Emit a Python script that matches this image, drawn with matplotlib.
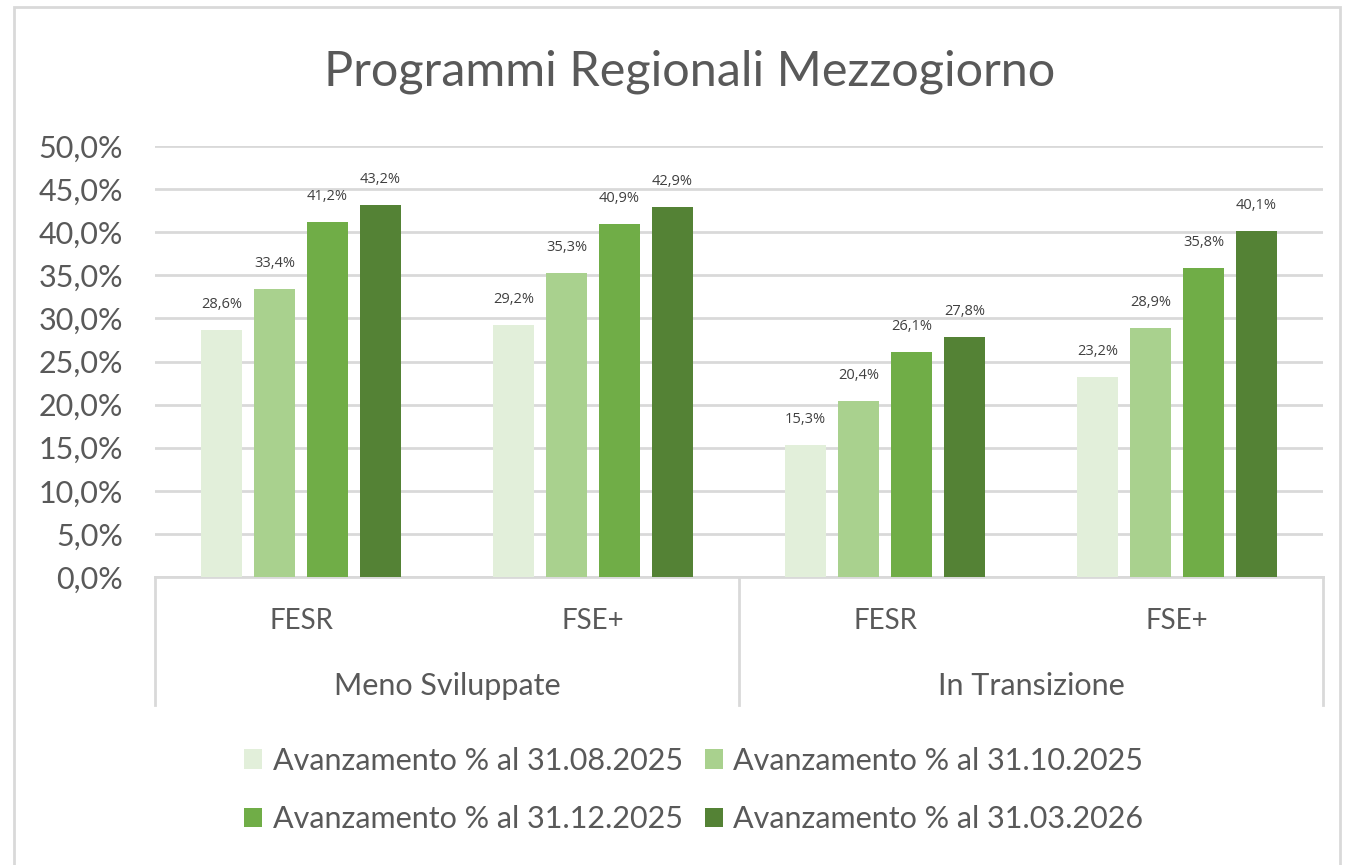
import numpy as np
import matplotlib.pyplot as plt
from matplotlib.patches import Rectangle

groups = ['Meno Sviluppate', 'In Transizione']
categories = ['FESR', 'FSE+', 'FESR', 'FSE+']
series = ['Avanzamento % al 31.08.2025', 'Avanzamento % al 31.10.2025',
          'Avanzamento % al 31.12.2025', 'Avanzamento % al 31.03.2026']
ago_2025 = [28.6, 29.2, 15.3, 23.2]
ott_2025 = [33.4, 35.3, 20.4, 28.9]
dic_2025 = [41.2, 40.9, 26.1, 35.8]
mar_2026 = [43.2, 42.9, 27.8, 40.1]
colors = ['#E2EFDA', '#A9D18E', '#70AD47', '#548235']

W, H = 1345, 865
fig = plt.figure(figsize=(W / 100, H / 100), dpi=100)
fig.patches.append(Rectangle((14 / W, -0.01), (1340 - 14) / W, 1 - 7 / H + 0.01,
                             transform=fig.transFigure, fill=False,
                             edgecolor='#D9D9D9', linewidth=2))

ax = fig.add_axes([155 / W, 1 - 577 / H, (1323 - 155) / W, (577 - 146) / H])
font = 'Lato'
txt = '#595959'

x = np.arange(len(categories))
step = 0.1815
width = 0.14
handles = []
for i, vals in enumerate([ago_2025, ott_2025, dic_2025, mar_2026]):
    pos = x + (i - 1.5) * step
    bars = ax.bar(pos, vals, width, color=colors[i], label=series[i], zorder=3)
    handles.append(bars)
    for b, v in zip(bars, vals):
        ax.annotate(f'{v:.1f}%'.replace('.', ','), (b.get_x() + b.get_width() / 2, v),
                    xytext=(0, 13), textcoords='offset points', ha='center', va='bottom',
                    fontsize=10.5, color='#404040', family='Open Sans')

ax.set_xlim(-0.5, len(categories) - 0.5)
ax.set_ylim(0, 50)
ax.set_yticks(np.arange(0, 51, 5))
ax.set_yticklabels([f'{t:.1f}%'.replace('.', ',') for t in np.arange(0, 51, 5)],
                   fontsize=22, color=txt, family=font)
ax.yaxis.grid(True, color='#D9D9D9', linewidth=2, zorder=0)
ax.tick_params(axis='y', length=0, pad=23)
ax.set_xticks(x)
ax.set_xticklabels(categories, fontsize=20, color=txt, family=font)
ax.tick_params(axis='x', length=0, pad=22)
for s in ['top', 'right', 'left']:
    ax.spines[s].set_visible(False)
ax.spines['bottom'].set_color('#D9D9D9')
ax.spines['bottom'].set_linewidth(2)

# second level of the axis
depth = (705 - 577) / (577 - 146)
for xa in [0, 0.5, 1]:
    ax.plot([xa, xa], [0, -depth], transform=ax.transAxes, color='#D9D9D9',
            linewidth=2, clip_on=False)
for j, g in enumerate(groups):
    ax.text(0.25 + 0.5 * j, -(686 - 577) / (577 - 146), g, transform=ax.transAxes,
            ha='center', va='center', fontsize=22, color=txt, family=font)

fig.text(690 / W, 1 - 72 / H, 'Programmi Regionali Mezzogiorno', ha='center', va='center',
         fontsize=35, color=txt, family=font)

order = [0, 2, 1, 3]
leg = fig.legend([handles[k] for k in order], [series[k] for k in order],
                 loc='center', bbox_to_anchor=(694 / W, 1 - 790 / H), ncol=2, frameon=False,
                 prop={'family': font, 'size': 22}, handlelength=0.59, handleheight=0.59,
                 handletextpad=0.35, columnspacing=0.7, labelspacing=1.0)
for t in leg.get_texts():
    t.set_color(txt)

fig.savefig('out.png', dpi=100)
